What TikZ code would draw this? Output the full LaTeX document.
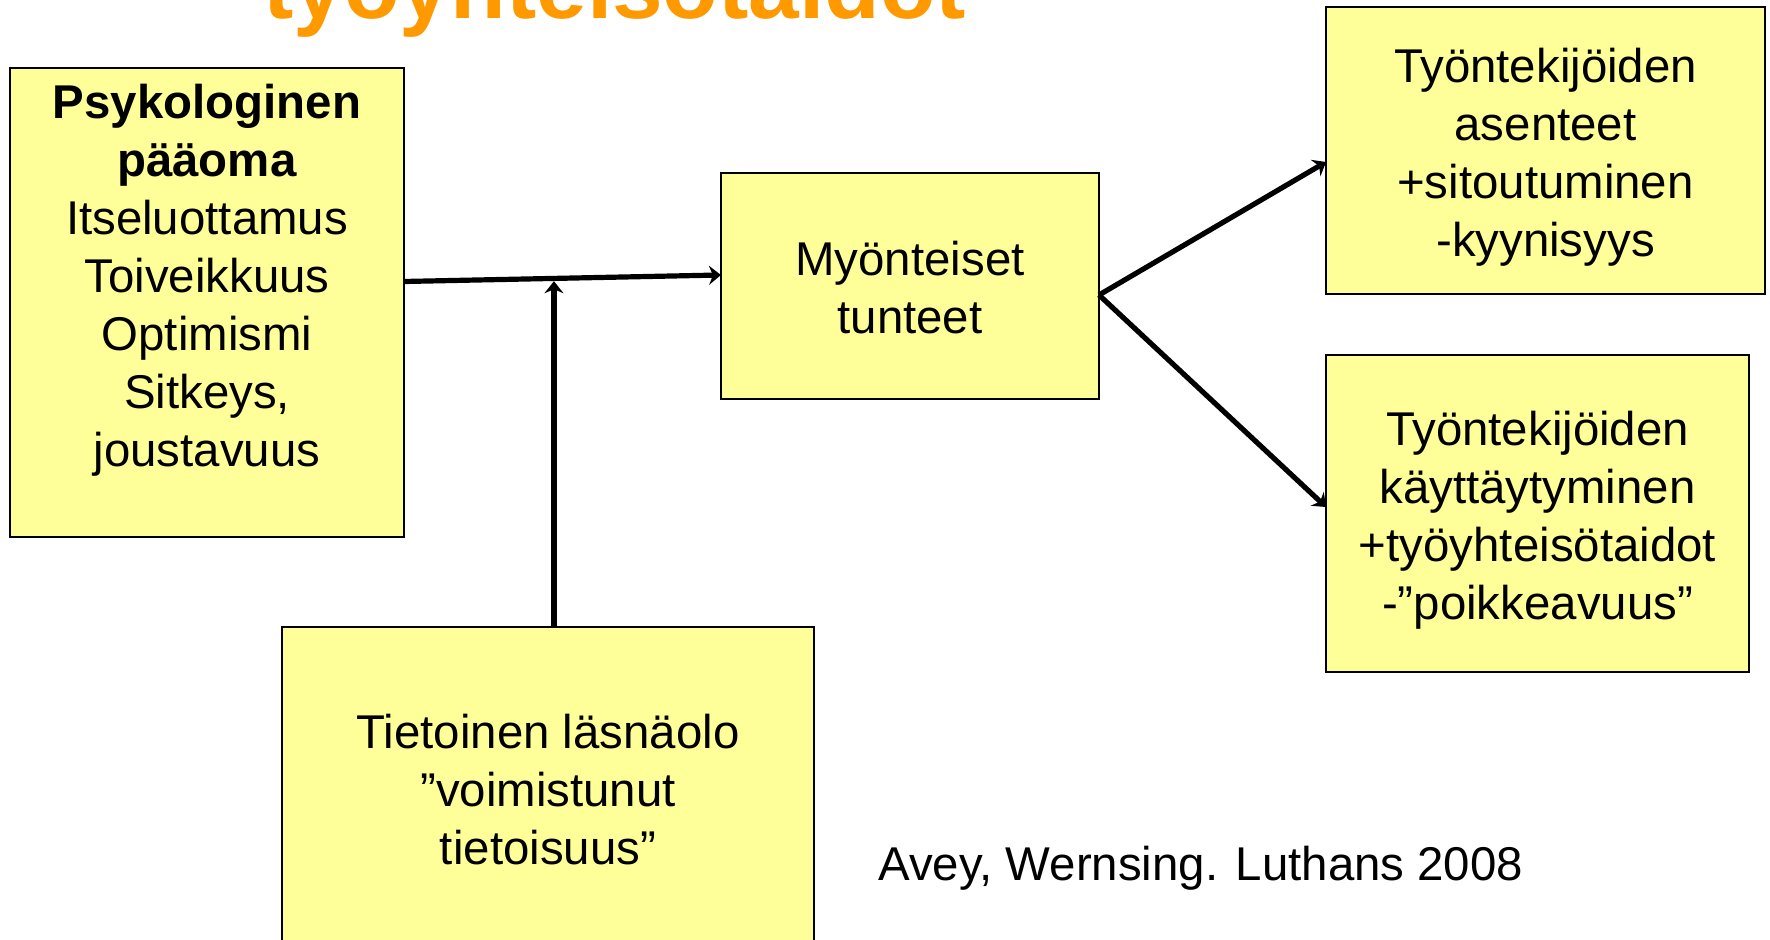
\documentclass[tikz,border=0pt]{standalone}
\usepackage{fontspec}
\setmainfont{Liberation Sans}
\usetikzlibrary{arrows.meta,calc}
\definecolor{boxyellow}{RGB}{255,255,153}
\definecolor{titleorange}{RGB}{255,153,0}
\newcommand{\ylarivi}{\rule{0pt}{24pt}}

\begin{document}
\begin{tikzpicture}[x=0.5pt,y=-0.5pt,
    box/.style={draw=black,line width=1pt,fill=boxyellow,align=center,inner sep=0pt,outer sep=0pt,font=\fontsize{23.7}{29}\selectfont,
        execute at end node={\rule[-5pt]{0pt}{5pt}}},
    arrow/.style={line width=2.6pt,-{Stealth[length=6pt,width=9.5pt,inset=2pt]}}]
    \useasboundingbox (0,0) rectangle (1770,940);
    \clip (0,0) rectangle (1770,940);

    % title, cut off at the top
    \node[anchor=base west,inner sep=0pt,text=titleorange,font=\fontsize{45.5}{50}\selectfont\bfseries] (otsikko) at (263,19) {työyhteisötaidot};

    % boxes
    \node[box,minimum width=197pt,minimum height=234.5pt] (psyk) at (207,302.5) {\ylarivi\textbf{Psykologinen}\\ \textbf{pääoma}\\ Itseluottamus\\ Toiveikkuus\\ Optimismi\\ Sitkeys,\\ joustavuus\\ \mbox{}};
    \node[box,minimum width=189pt,minimum height=113pt] (tunteet) at (910,286) {\ylarivi Myönteiset\\ tunteet};
    \node[box,minimum width=219.5pt,minimum height=143.5pt] (asenteet) at (1545.5,150.5) {\ylarivi Työntekijöiden\\ asenteet\\ +sitoutuminen\\ -kyynisyys};
    \node[box,minimum width=211.5pt,minimum height=158.5pt] (kaytos) at (1537.5,513.5) {\ylarivi Työntekijöiden\\ käyttäytyminen\\ +työyhteisötaidot\\ -”poikkeavuus”};
    \node[box,minimum width=266pt,minimum height=160pt] (lasnaolo) at (548,787) {\ylarivi Tietoinen läsnäolo\\ ”voimistunut\\ tietoisuus”};

    % source
    \node[anchor=base west,inner sep=0pt,font=\fontsize{23.7}{29}\selectfont] (lahde) at (878,880) {Avey, Wernsing. Luthans 2008};

    % arrows
    \draw[arrow] ($(psyk.east)+(0,-21)$) -- coordinate[pos=0.473] (meet) ($(tunteet.west)+(0,-11)$);
    \draw[arrow,shorten >=1.4pt] (lasnaolo.north -| meet) -- (meet);
    \draw[arrow] ($(tunteet.east)+(0,9)$) -- ($(asenteet.west)+(0,11.5)$);
    \draw[arrow] ($(tunteet.east)+(0,9)$) -- ($(kaytos.west)+(0,-6.5)$);
\end{tikzpicture}
\end{document}
